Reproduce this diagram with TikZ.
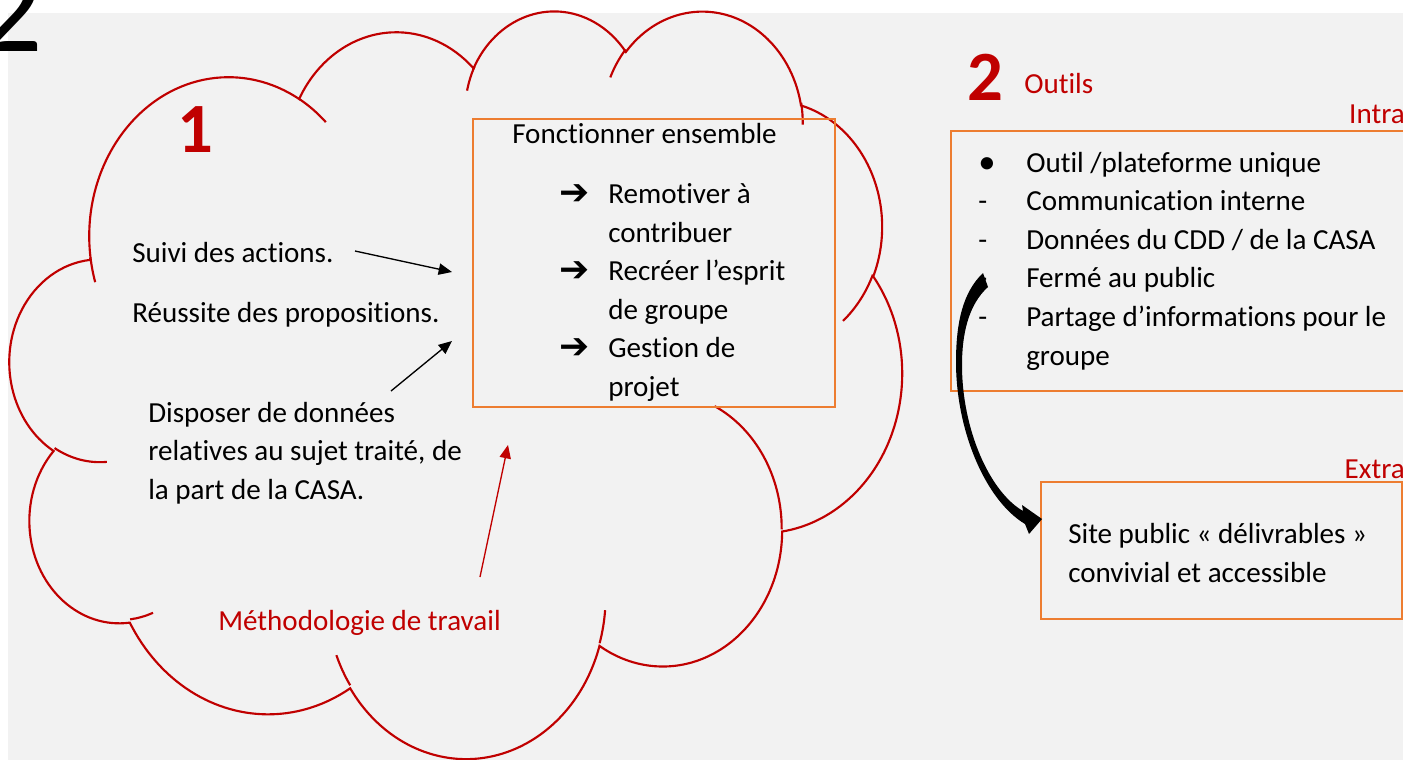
\documentclass[tikz,border=0pt]{standalone}
\usepackage{fontspec}
\setmainfont{Carlito}[Ligatures=NoCommon]
\newfontfamily\symfont{DejaVu Sans}
\usetikzlibrary{arrows.meta}
\definecolor{darkred}{HTML}{C00000}
\definecolor{offorange}{HTML}{ED7D31}
\definecolor{bggray}{HTML}{F2F2F2}
\newcommand\bodysize{\fontsize{21.8}{28.95}\selectfont}
\newcommand\bignum{\fontsize{53}{60}\selectfont\bfseries}
\begin{document}
\begin{tikzpicture}[x=0.75pt, y=-0.75pt,
  declare function={vang(\x,\y,\z)=\x+mod(atan2(\y*sin(\x),\z*cos(\x))-\x+540,360)-180;},
  txt/.style={anchor=base west, inner sep=0pt, font=\bodysize, text=black},
  redtxt/.style={txt, text=darkred},
  bignumred/.style={anchor=base west, inner sep=0pt, font=\bignum, text=darkred},
  obox/.style={draw=offorange, line width=1.8pt, inner sep=0pt},
  cloudline/.style={draw=darkred, line width=1.6pt},
  thinarrow/.style={line width=1pt, -{Triangle[length=10pt,width=8.5pt]}},
  sym/.style={anchor=center, inner sep=0pt, font=\symfont\bfseries\fontsize{27}{30}\selectfont},
]
\useasboundingbox (0,0) rectangle (1403,760);
\fill[white] (0,0) rectangle (1403,760);
\fill[bggray] (8,13) rectangle (1403,760);
\clip (0,0) rectangle (1403,760);

% big black 2 (cropped)
\node[anchor=base east, inner sep=0pt, font=\fontsize{97}{100}\selectfont] (bigtwo) at (43,51) {2};

% cloud
\begin{scope}[xshift=7.5pt, yshift=-6.75pt, x=15.483pt, y=-12.975pt]
\draw[cloudline] (3.900,14.370)
  arc[x radius=6.753, y radius=9.190, start angle={vang(-190.48748,6.753,9.190)}, end angle={vang(-66.70695,6.753,9.190)}]
  arc[x radius=5.333, y radius=7.267, start angle={vang(-144.10238,5.333,7.267)}, end angle={vang(-54.15715,5.333,7.267)}]
  arc[x radius=4.365, y radius=5.945, start angle={vang(-145.80792,4.365,5.945)}, end angle={vang(-46.08490,4.365,5.945)}]
  arc[x radius=4.857, y radius=6.595, start angle={vang(-130.98607,4.857,6.595)}, end angle={vang(-13.74434,4.857,6.595)}]
  arc[x radius=5.333, y radius=7.273, start angle={vang(-78.70888,5.333,7.273)}, end angle={vang(30.31804,5.333,7.273)}]
  arc[x radius=6.775, y radius=9.220, start angle={vang(-46.26725,6.775,9.220)}, end angle={vang(84.00175,6.775,9.220)}]
  arc[x radius=5.785, y radius=7.867, start angle={vang(0.62502,5.785,7.867)}, end angle={vang(114.65835,5.785,7.867)}]
  arc[x radius=6.752, y radius=9.215, start angle={vang(22.45160,6.752,9.215)}, end angle={vang(137.62415,6.752,9.215)}]
  arc[x radius=7.720, y radius=10.543, start angle={vang(66.24263,7.720,10.543)}, end angle={vang(141.95365,7.720,10.543)}]
  arc[x radius=4.360, y radius=5.918, start angle={vang(-274.94208,4.360,5.918)}, end angle={vang(-128.20651,4.360,5.918)}]
  arc[x radius=4.345, y radius=5.945, start angle={vang(-246.82850,4.345,5.945)}, end angle={vang(-94.30965,4.345,5.945)}]
  -- cycle;
\draw[cloudline] (4.693,26.177) arc[x radius=4.345, y radius=5.945, start angle={vang(86.74200,4.345,5.945)}, end angle={vang(113.17150,4.345,5.945)}];
\draw[cloudline] (6.928,34.899) arc[x radius=4.360, y radius=5.918, start angle={vang(73.61047,4.360,5.918)}, end angle={vang(85.05794,4.360,5.918)}];
\draw[cloudline] (16.478,39.090) arc[x radius=6.752, y radius=9.215, start angle={vang(137.62415,6.752,9.215)}, end angle={vang(151.70525,6.752,9.215)}];
\draw[cloudline] (28.827,34.751) arc[x radius=6.752, y radius=9.215, start angle={vang(6.45327,6.752,9.215)}, end angle={vang(22.45162,6.752,9.215)}];
\draw[cloudline] (34.129,22.954) arc[x radius=5.785, y radius=7.867, start angle={vang(-70.29235,5.785,7.867)}, end angle={vang(0.48860,5.785,7.867)}];
\draw[cloudline] (41.798,15.354) arc[x radius=5.333, y radius=7.273, start angle={vang(30.31803,5.333,7.273)}, end angle={vang(58.06953,5.333,7.273)}];
\draw[cloudline] (38.324,5.426) arc[x radius=4.857, y radius=6.595, start angle={vang(-13.74433,4.857,6.595)}, end angle={vang(1.11457,4.857,6.595)}];
\draw[cloudline] (29.078,3.952) arc[x radius=4.857, y radius=6.595, start angle={vang(-149.18145,4.857,6.595)}, end angle={vang(-130.98608,4.857,6.595)}];
\draw[cloudline] (22.141,4.720) arc[x radius=4.365, y radius=5.945, start angle={vang(-163.49427,4.365,5.945)}, end angle={vang(-145.80792,4.365,5.945)}];
\draw[cloudline] (14.000,5.192) arc[x radius=6.753, y radius=9.190, start angle={vang(-66.70695,6.753,9.190)}, end angle={vang(-54.38760,6.753,9.190)}];
\draw[cloudline] (4.127,15.789) arc[x radius=6.753, y radius=9.190, start angle={vang(157.65435,6.753,9.190)}, end angle={vang(169.51252,6.753,9.190)}];
\end{scope}

% boxes
\node[obox, minimum width=271.5pt, minimum height=216pt] (box1) at (654,263) {};
\node[obox, minimum width=359.25pt, minimum height=195pt] (box2) at (1190.5,261) {};
\node[obox, minimum width=270.75pt, minimum height=102.75pt] (box3) at (1221.5,550.5) {};

% numbers and titles
\node[bignumred] (one) at (177,152) {1};
\node[bignumred] (two) at (967,100) {2};
\node[redtxt] (outils) at (1024,93) {Outils};
\node[redtxt, anchor=base east] (intra) at (1405,123) {Intra};
\node[redtxt, anchor=base east] (extra) at (1405,478) {Extra};

% box 1 content
\node[txt] (fe) at (512,143) {Fonctionner ensemble};
\node[sym] (ar1) at (574.5,194.5) {➔};
\node[sym] (ar2) at (574.5,271.7) {➔};
\node[sym] (ar3) at (574.5,348.9) {➔};
\node[txt] (b1l1) at (608,203.5) {Remotiver à};
\node[txt] (b1l2) at (608,242.1) {contribuer};
\node[txt] (b1l3) at (608,280.7) {Recréer l’esprit};
\node[txt] (b1l4) at (608,319.3) {de groupe};
\node[txt] (b1l5) at (608,357.9) {Gestion de};
\node[txt] (b1l6) at (608,396.5) {projet};

% cloud texts
\node[txt] (suivi) at (132,262) {Suivi des actions.};
\node[txt] (reussite) at (132,322) {Réussite des propositions.};
\node[txt] (disp1) at (148,422) {Disposer de données};
\node[txt] (disp2) at (148,460.6) {relatives au sujet traité, de};
\node[txt] (disp3) at (148,499.2) {la part de la CASA.};
\node[redtxt] (methodo) at (218,630) {Méthodologie de travail};

% box 2 content
\node[txt, font=\fontsize{26}{30}\selectfont] (bul1) at (978,173) {•};
\node[txt] (d2) at (978,210.6) {-};
\node[txt] (d3) at (978,249.2) {-};
\node[txt] (d4) at (978,287.8) {-};
\node[txt] (d5) at (978,326.4) {-};
\node[txt] (b2l1) at (1026,172) {Outil /plateforme unique};
\node[txt] (b2l2) at (1026,210.6) {Communication interne};
\node[txt] (b2l3) at (1026,249.2) {Données du CDD / de la CASA};
\node[txt] (b2l4) at (1026,287.8) {Fermé au public};
\node[txt] (b2l5) at (1026,326.4) {Partage d’informations pour le};
\node[txt] (b2l6) at (1026,365) {groupe};

% box 3 content
\node[txt] (b3l1) at (1068,543) {Site public « délivrables »};
\node[txt] (b3l2) at (1068,582) {convivial et accessible};

% thin arrows
\coordinate (a1s) at (355,251); \coordinate (a1e) at (452,272);
\draw[thinarrow] (a1s) -- (a1e);
\coordinate (a2s) at (391,391); \coordinate (a2e) at (452,341);
\draw[thinarrow] (a2s) -- (a2e);
\coordinate (a3s) at (480,577); \coordinate (a3e) at (508,445);
\draw[thinarrow, color=darkred] (a3s) -- (a3e);

% curved black arrow
\fill[black] (983,273) -- (988,287)
  .. controls (968,305) and (962,335) .. (962,365)
  .. controls (962,430) and (990,492) .. (1023,511)
  -- (1022,505) -- (1042,519) -- (1029,534) -- (1025,524)
  .. controls (985,500) and (956,430) .. (956,362)
  .. controls (956,322) and (963,292) .. (983,273) -- cycle;
\end{tikzpicture}
\end{document}
